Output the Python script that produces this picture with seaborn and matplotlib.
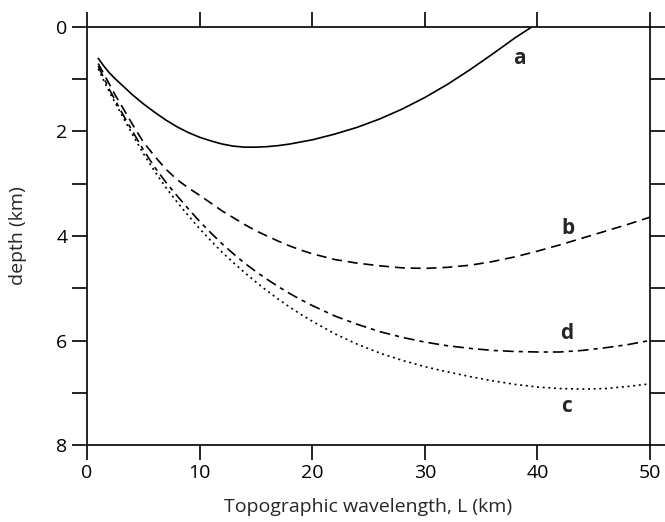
import numpy as np
import pandas as pd
import seaborn as sns
import matplotlib.pyplot as plt
from matplotlib.ticker import MultipleLocator

# curve values (depth in km vs wavelength L in km)
x_a = [1, 1.5, 2, 2.5, 3, 4, 5, 6, 7, 8, 9, 10, 11, 12, 13, 14, 15, 16, 17, 18, 19, 20,
       22, 24, 26, 28, 30, 32, 34, 36, 38, 39.5]
depth_a = [0.6, 0.75, 0.88, 0.99, 1.09, 1.29, 1.47, 1.63, 1.78, 1.91, 2.02, 2.11, 2.18, 2.24,
           2.28, 2.3, 2.3, 2.29, 2.27, 2.24, 2.2, 2.16, 2.05, 1.92, 1.76, 1.57, 1.35, 1.1,
           0.82, 0.52, 0.21, 0.0]

x_bdc = [1, 1.5, 2, 2.5, 3, 4, 5, 6, 7, 8, 9, 10, 11, 12, 13, 14, 15, 16, 17, 18, 19, 20,
         22, 24, 26, 28, 30, 32, 34, 36, 38, 40, 42, 44, 46, 48, 50]
depth_b = [0.7, 0.9, 1.1, 1.3, 1.48, 1.85, 2.2, 2.47, 2.72, 2.92, 3.08, 3.22, 3.37, 3.52,
           3.65, 3.78, 3.9, 4.0, 4.1, 4.19, 4.27, 4.34, 4.45, 4.52, 4.57, 4.61, 4.62, 4.6,
           4.56, 4.49, 4.4, 4.29, 4.17, 4.04, 3.91, 3.78, 3.64]
depth_d = [0.75, 0.98, 1.2, 1.4, 1.6, 1.98, 2.35, 2.68, 2.97, 3.23, 3.48, 3.72, 3.94, 4.15,
           4.34, 4.52, 4.68, 4.83, 4.97, 5.1, 5.22, 5.33, 5.53, 5.69, 5.83, 5.94, 6.03, 6.1,
           6.15, 6.19, 6.21, 6.22, 6.22, 6.19, 6.14, 6.08, 6.0]
depth_c = [0.8, 1.03, 1.25, 1.45, 1.65, 2.04, 2.42, 2.76, 3.07, 3.35, 3.61, 3.86, 4.09, 4.31,
           4.51, 4.7, 4.88, 5.05, 5.21, 5.36, 5.5, 5.63, 5.87, 6.07, 6.24, 6.38, 6.5, 6.6,
           6.69, 6.77, 6.84, 6.89, 6.92, 6.93, 6.92, 6.88, 6.83]

labels = ["a", "b", "d", "c"]
label_x = [38.4, 42.7, 42.6, 42.6]
label_y = [0.61, 3.85, 5.86, 7.27]

sns.set_style("ticks")
plt.rcParams['font.family'] = ['Open Sans', 'DejaVu Sans']

fig = plt.figure(figsize=(6.65, 5.22), dpi=100)
ax = fig.add_axes([0.1308, 0.1475, 0.8466, 0.8008])

styles = {
    "a": "-",
    "b": (0, (6, 3.5)),
    "d": (0, (6.5, 3, 2.5, 3)),
    "c": (0, (1.2, 2.2)),
}
for key, xs, ys in [("a", x_a, depth_a), ("b", x_bdc, depth_b),
                    ("d", x_bdc, depth_d), ("c", x_bdc, depth_c)]:
    df = pd.DataFrame({"L": xs, "depth": ys})
    sns.lineplot(df, x="L", y="depth", ax=ax, color="black", linewidth=1.2,
                 linestyle=styles[key], sort=False)

for lab, lx, ly in zip(labels, label_x, label_y):
    ax.text(lx, ly, lab, fontsize=15, fontweight="bold", ha="center", va="center")

ax.set_xlim(0, 50)
ax.set_ylim(8, 0)
ax.xaxis.set_major_locator(MultipleLocator(10))
ax.yaxis.set_major_locator(MultipleLocator(2))
ax.yaxis.set_minor_locator(MultipleLocator(1))

for s in ax.spines.values():
    s.set_linewidth(1.2)
    s.set_color("black")

ax.tick_params(axis="x", which="major", direction="out", length=11, width=1.2,
               top=True, bottom=True, labelsize=14, pad=3, colors="black")
ax.tick_params(axis="y", which="both", direction="out", length=11, width=1.2,
               left=True, right=True, labelsize=14, pad=3, colors="black")

ax.set_xlabel("Topographic wavelength, L (km)", fontsize=14, labelpad=11)
ax.set_ylabel("depth (km)", fontsize=14, labelpad=21)

fig.savefig("out.png", dpi=100)
